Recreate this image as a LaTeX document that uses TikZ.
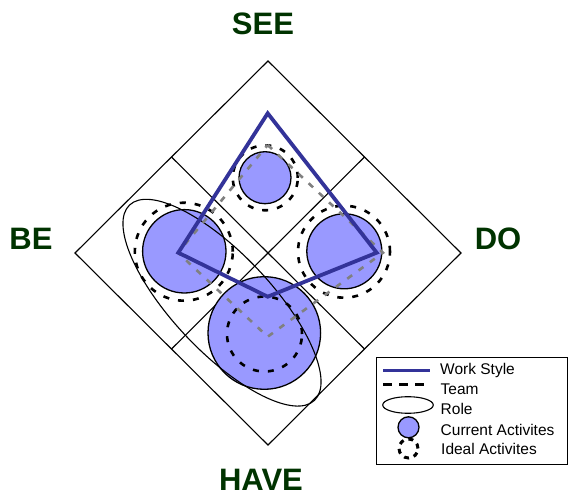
\documentclass[tikz,border=0pt]{standalone}
\usepackage{fontspec}
\setmainfont{Liberation Sans}
\usetikzlibrary{shapes.geometric}
\definecolor{curfill}{HTML}{9999FF}
\definecolor{wsblue}{HTML}{333399}
\definecolor{labgreen}{HTML}{003300}

\begin{document}
\begin{tikzpicture}[x=1pt,y=-1pt,
    lab/.style={font=\fontsize{31}{31}\selectfont\bfseries, text=labgreen, inner sep=0pt, anchor=base},
    grid/.style={line width=1.1pt},
    current/.style={circle, draw, line width=1.3pt, fill=curfill, inner sep=0pt, outer sep=0pt},
    ideal/.style={circle, draw, line width=2.6pt, dash pattern=on 6pt off 9pt, inner sep=0pt},
    workstyle/.style={wsblue, line width=3.8pt, line join=miter},
    team/.style={gray, line width=2.6pt, dash pattern=on 6pt off 8pt},
    role/.style={ellipse, draw, line width=1.1pt, inner sep=0pt},
    keytext/.style={font=\fontsize{15.5}{15.5}\selectfont, anchor=base west, inner sep=0pt}]

  \useasboundingbox (0,0) rectangle (568,497);

  % frame
  \coordinate (top) at (268,61);
  \coordinate (right) at (461,253);
  \coordinate (bot) at (268,445);
  \coordinate (left) at (75,253);
  \coordinate (m-tl) at (171.5,157);
  \coordinate (m-br) at (364.5,349);
  \coordinate (m-tr) at (364.5,157);
  \coordinate (m-bl) at (171.5,349);
  \draw[grid] (top) -- (right) -- (bot) -- (left) -- cycle;
  \draw[grid] (m-tl) -- (m-br);
  \draw[grid] (m-tr) -- (m-bl);

  \node[lab] (see) at (263,35) {SEE};
  \node[lab] (be) at (31,250) {BE};
  \node[lab] (do) at (498,250) {DO};
  \node[lab] (have) at (261,490) {HAVE};

  % activities
  \foreach \name/\cx/\cy/\rc in {see/265/177.7/26, be/184.3/251.3/41.7, do/344.3/251.3/37.5, have/264.3/333/56.3}{
    \node[current, minimum size=2*\rc] (cur-\name) at (\cx,\cy) {};
  }
  \foreach \name/\cx/\cy/\ri in {see/265.3/177.8/32.5, be/183.8/251.7/49, do/344/251.7/46, have/264.5/334/37.5}{
    \node[ideal, minimum size=2*\ri] (ideal-\name) at (\cx,\cy) {};
  }

  \node[role, minimum width=269pt, minimum height=98pt, rotate=-46.6] (role) at (222,302.7) {};

  % team and work style
  \coordinate (t-top) at (267.7,145);
  \coordinate (t-right) at (383,252.7);
  \coordinate (t-bot) at (267.7,336.7);
  \coordinate (t-left) at (178,252.7);
  \draw[team] (t-top) -- (t-right) -- (t-bot) -- (t-left) -- cycle;

  \coordinate (w-top) at (267.7,113.3);
  \coordinate (w-right) at (376.7,252.7);
  \coordinate (w-bot) at (267.7,296.7);
  \coordinate (w-left) at (178.3,252.7);
  \draw[workstyle] (w-top) -- (w-right) -- (w-bot) -- (w-left) -- cycle;

  % legend
  \node[draw, line width=1.3pt, fill=white, minimum width=191pt, minimum height=107pt,
        inner sep=0pt, anchor=north west] (key) at (375.5,357) {};
  \coordinate (k-ws-a) at (383,370.7);
  \coordinate (k-ws-b) at (430,370.7);
  \draw[workstyle, line width=3.4pt] (k-ws-a) -- (k-ws-b);
  \node[keytext] (k-ws) at (440,374.3) {Work Style};
  \coordinate (k-team-a) at (383,384.5);
  \coordinate (k-team-b) at (430,384.5);
  \draw[line width=3pt, dash pattern=on 9pt off 7pt] (k-team-a) -- (k-team-b);
  \node[keytext] (k-team) at (440.5,394.3) {Team};
  \node[role, minimum width=50.6pt, minimum height=16.6pt] (k-role) at (408,405) {};
  \node[keytext] (k-roletext) at (440.5,414) {Role};
  \node[current, minimum size=21pt] (k-cur) at (408.5,427.3) {};
  \node[keytext] (k-curtext) at (440.5,435) {Current Activites};
  \node[circle, draw, line width=3pt, dash pattern=on 5pt off 5pt, inner sep=0pt, minimum size=19pt] (k-ideal) at (408.5,448.5) {};
  \node[keytext] (k-idealtext) at (441,454.3) {Ideal Activites};
\end{tikzpicture}
\end{document}
